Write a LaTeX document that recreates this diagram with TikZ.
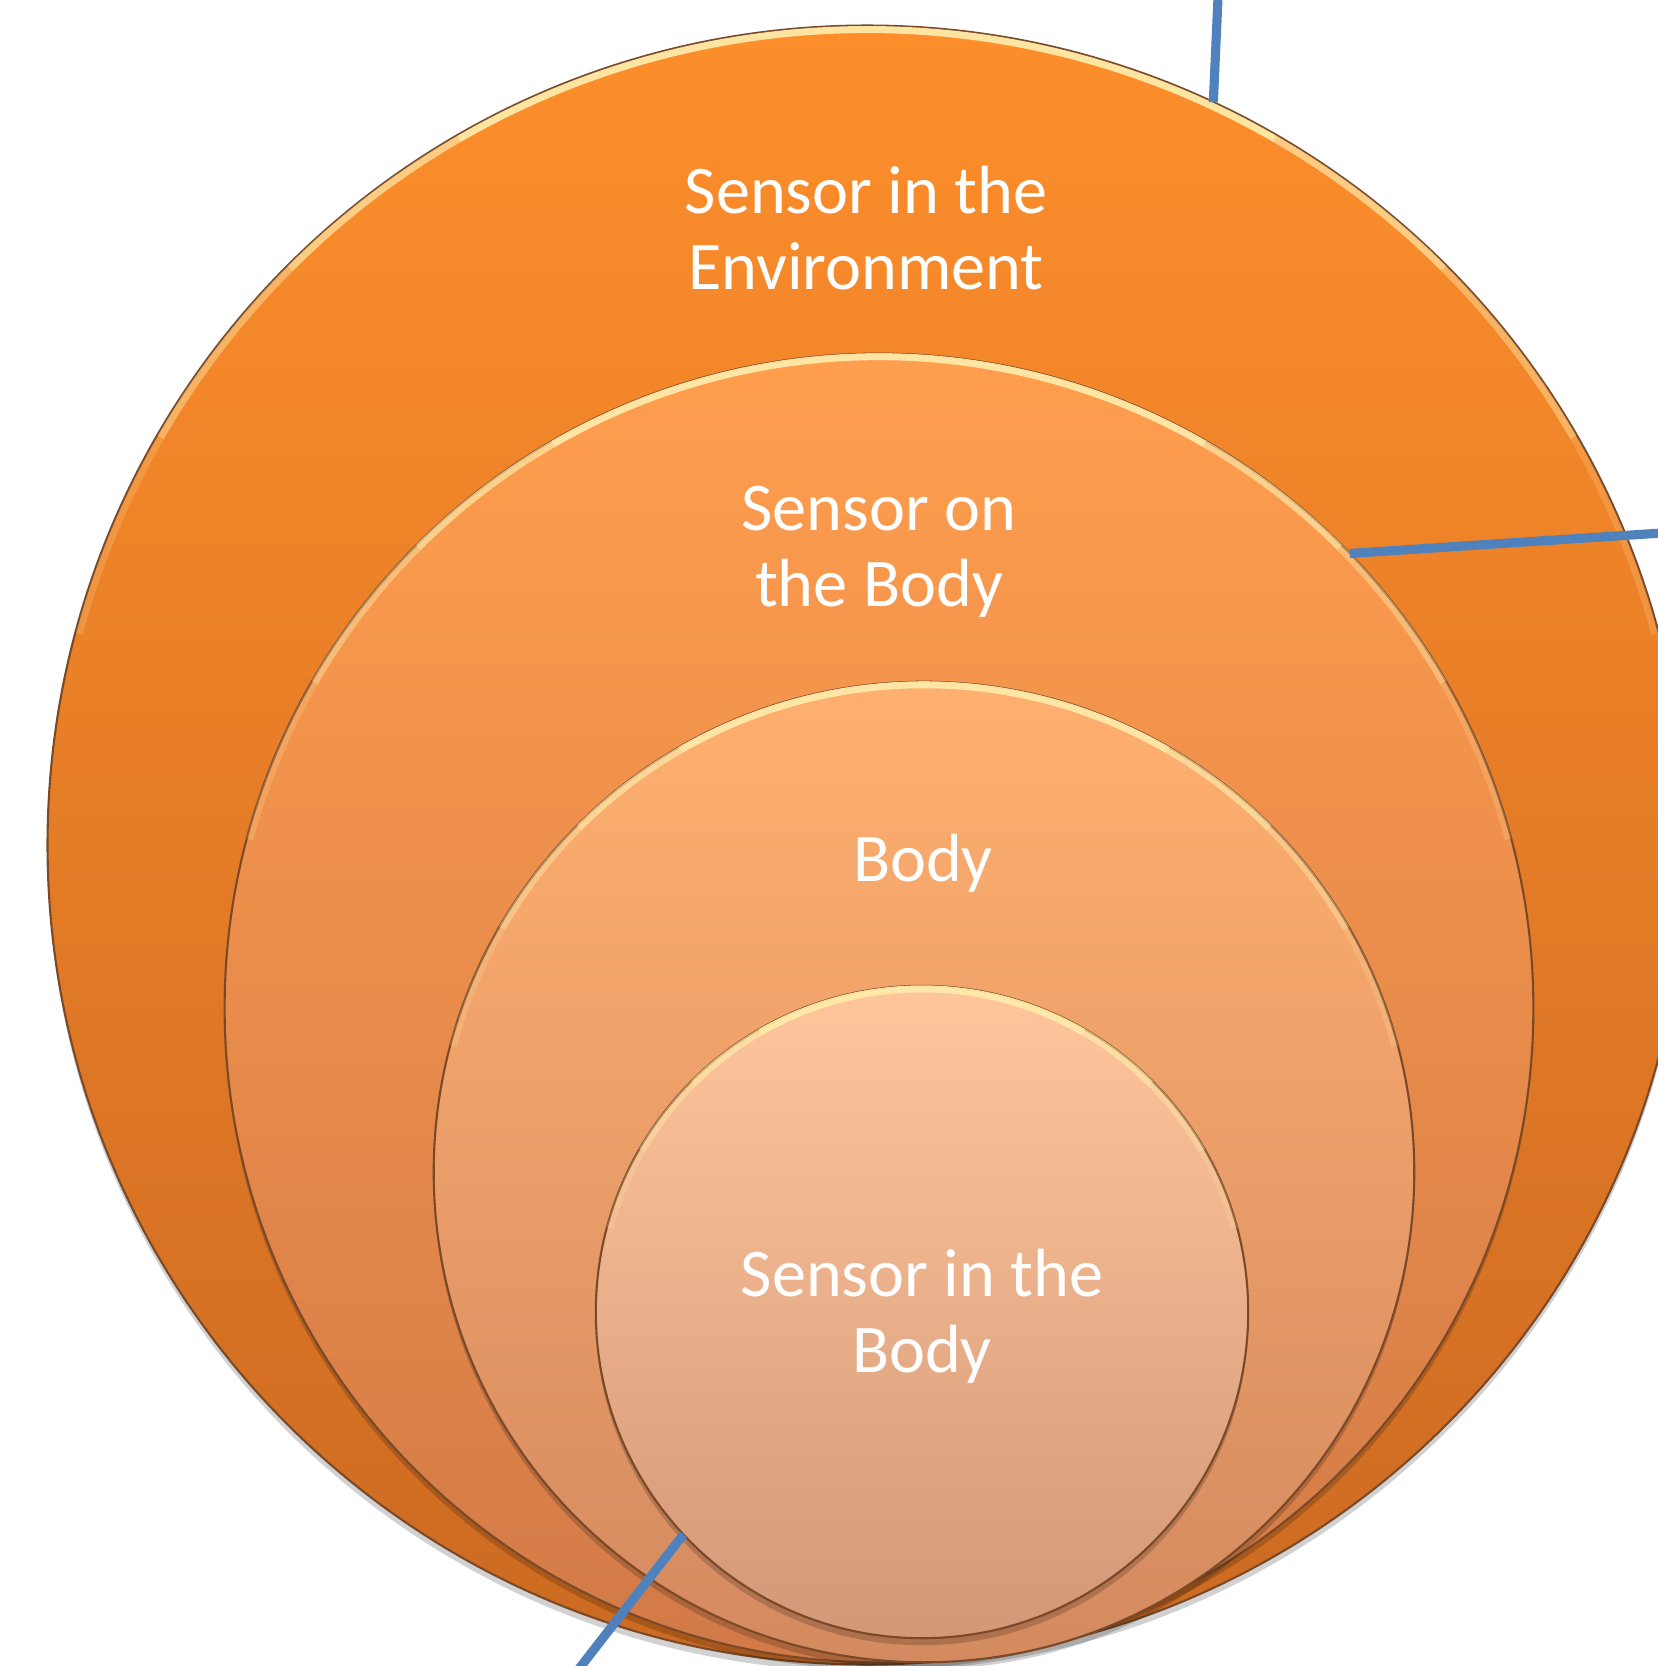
\documentclass[tikz,border=0pt]{standalone}
\usepackage{fontspec}
\setmainfont{Carlito}
\usetikzlibrary{calc,shadows}
\definecolor{oTop}{HTML}{FD8E2B}
\definecolor{oBot}{HTML}{CC6A22}
\definecolor{sTop}{HTML}{FF9E4E}
\definecolor{sBot}{HTML}{D27A48}
\definecolor{tTop}{HTML}{FFB070}
\definecolor{tBot}{HTML}{D48A60}
\definecolor{iTop}{HTML}{FFC69C}
\definecolor{iBot}{HTML}{D29878}
\definecolor{edge}{HTML}{7A4A28}
\definecolor{rimcol}{HTML}{FFE9A8}
\definecolor{link}{HTML}{4F81BD}
\tikzset{
  ring/.style={circle, draw=edge, line width=0.6pt, inner sep=0pt, outer sep=0pt,
    drop shadow={shadow xshift=0pt, shadow yshift=-2pt, opacity=0.18, fill=black}},
  rim/.style={draw=rimcol, line width=2pt},
  label/.style={text=white, align=center, font=\fontsize{19.4pt}{21.6pt}\selectfont},
  connector/.style={draw=link, line width=2.6pt}
}
\newcommand{\rimarcs}[2]{%
  \foreach \a/\b/\o in {60/120/0.95, 45/60/0.7, 120/135/0.7, 30/45/0.45, 135/150/0.45, 15/30/0.2, 150/165/0.2}{
    \draw[rim, draw opacity=\o] ($(#1.center)+(\a:#2)$) arc[start angle=\a, end angle=\b, radius=#2];
  }}
\begin{document}
\begin{tikzpicture}[x=0.01cm, y=-0.01cm]
\useasboundingbox (0,0) rectangle (1658,1666);
\clip (0,0) rectangle (1658,1666);
% outer
\node[ring, minimum size=16.38cm, top color=oTop, bottom color=oBot] (env) at (867,845) {};
\rimarcs{env}{8.15cm}
\coordinate (topend) at (1218,-2);
\draw[connector] (topend) -- (env.65.9);
% second
\node[ring, minimum size=13.08cm, top color=sTop, bottom color=sBot] (onbody) at (879,1008) {};
\rimarcs{onbody}{6.51cm}
\coordinate (rightend) at (1662,533);
\draw[connector] (onbody.44.4) -- (rightend);
% third
\node[ring, minimum size=9.80cm, top color=tTop, bottom color=tBot] (body) at (924,1172) {};
\rimarcs{body}{4.87cm}
% inner
\node[ring, minimum size=6.52cm, top color=iTop, bottom color=iBot] (inbody) at (922,1312) {};
\rimarcs{inbody}{3.23cm}
\coordinate (bottomend) at (578,1670);
\draw[connector] (inbody.223.9) -- (bottomend);
% labels
\node[label] (lenv) at (866,228) {Sensor in the\\Environment};
\node[label] (lon) at (879,552) {Sensor on\\the Body};
\node[label] (lbody) at (923,863) {Body};
\node[label] (lin) at (922,1316) {Sensor in the\\Body};
\end{tikzpicture}
\end{document}
